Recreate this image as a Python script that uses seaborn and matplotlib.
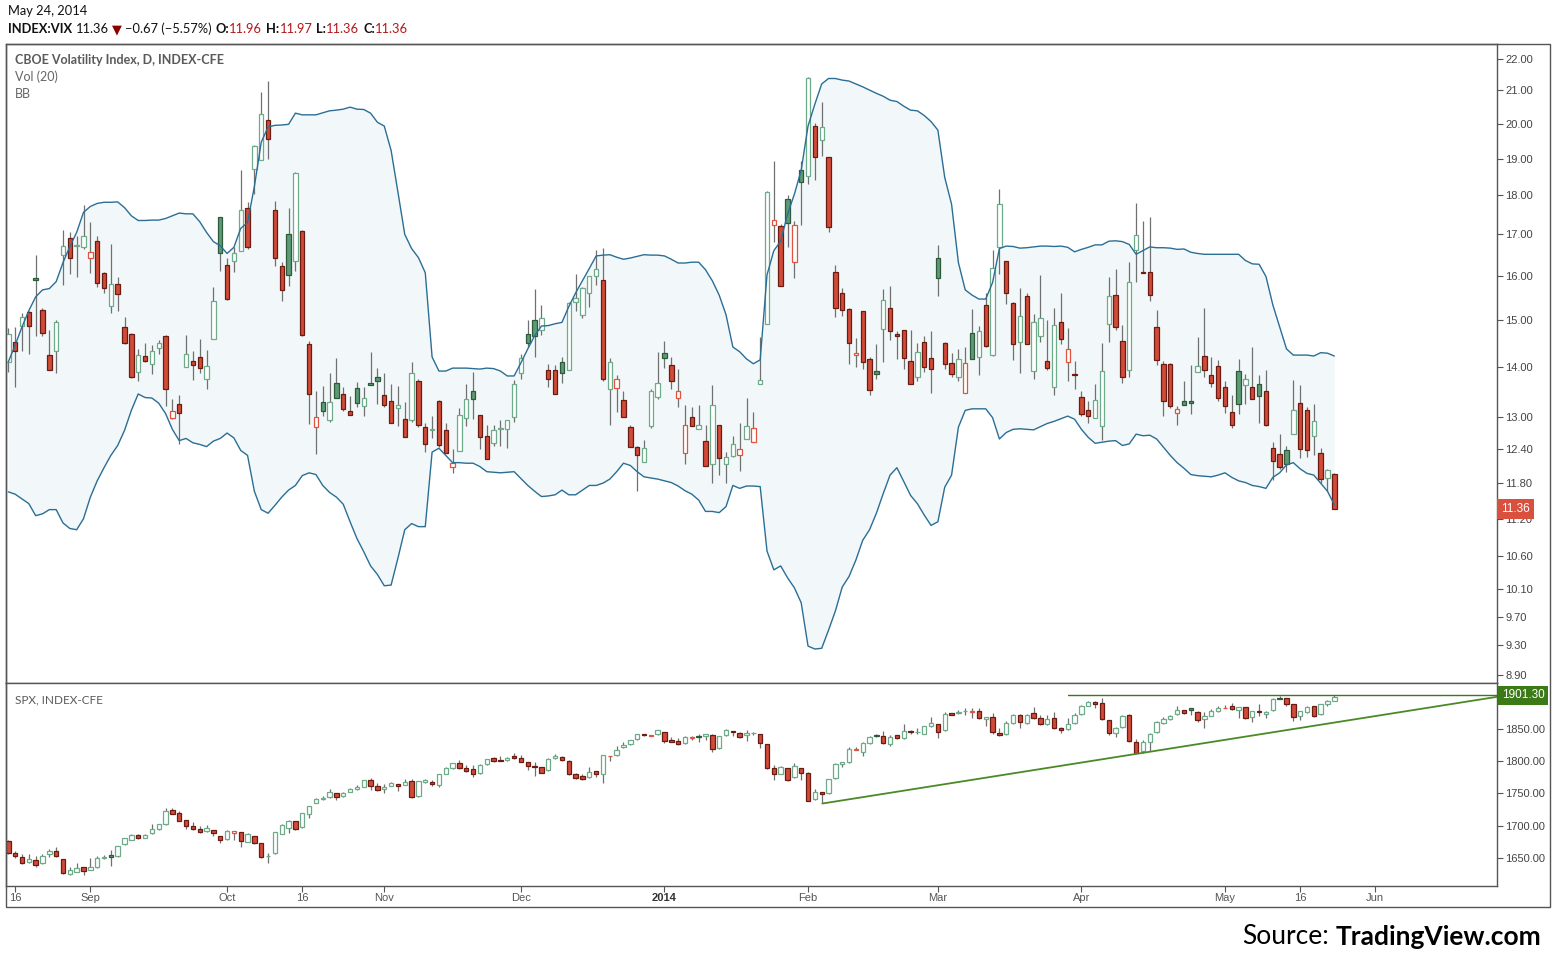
import numpy as np
import seaborn as sns
import matplotlib.pyplot as plt
import matplotlib.ticker as mticker
from matplotlib.patches import Rectangle

# bar index 0 = 15 Aug 2013 ... 194 = 23 May 2014 (daily bars)
# ---------------- VIX (upper pane) ----------------
vix_open = [14.10, 14.51, 14.87, 15.18, 15.95, 15.22, 14.24, 14.33, 16.49, 16.91,
            16.72, 16.69, 16.42, 16.84, 16.06, 15.30, 15.81, 14.84, 14.68, 13.89,
            14.22, 14.05, 14.39, 14.64, 12.99, 13.25, 14.00, 14.12, 14.20, 13.75,
            14.58, 17.43, 16.25, 16.34, 16.59, 17.67, 18.71, 18.95, 20.12, 17.62,
            16.24, 17.01, 16.35, 17.09, 14.47, 12.81, 13.29, 12.94, 13.67, 13.45,
            13.12, 13.57, 13.21, 13.67, 13.79, 13.42, 13.31, 13.17, 12.96, 12.94,
            13.71, 12.81, 12.76, 13.31, 12.75, 12.09, 12.37, 12.99, 13.51, 13.04,
            12.64, 12.52, 12.78, 12.77, 13.01, 13.87, 14.68, 14.99, 14.78, 13.94,
            13.94, 14.10, 13.94, 15.39, 15.11, 15.60, 16.00, 15.90, 13.55, 13.57,
            13.33, 12.81, 12.44, 12.17, 12.83, 13.39, 14.29, 14.03, 13.37, 12.33,
            13.00, 12.78, 12.55, 12.14, 12.85, 12.13, 12.28, 12.30, 12.59, 12.53,
            13.64, 14.90, 17.23, 17.22, 17.90, 16.33, 18.68, 18.52, 19.93, 19.52,
            19.04, 16.09, 15.59, 15.24, 14.26, 15.19, 14.16, 13.91, 14.79, 15.25,
            14.68, 14.77, 14.12, 13.79, 14.51, 14.18, 16.42, 14.50, 14.08, 13.78,
            13.47, 14.71, 14.19, 15.32, 14.24, 16.68, 16.35, 15.37, 14.51, 15.53,
            13.91, 14.64, 14.12, 13.59, 14.94, 14.10, 13.84, 13.39, 13.14, 12.98,
            12.83, 14.90, 15.55, 14.54, 13.94, 16.61, 16.08, 16.09, 14.84, 14.05,
            14.05, 13.07, 13.31, 13.31, 13.89, 14.22, 13.83, 14.02, 13.59, 13.09,
            13.91, 13.62, 13.59, 13.65, 13.51, 12.42, 12.31, 12.38, 12.68, 13.27,
            13.13, 12.64, 12.34, 11.89, 11.96]
vix_high = [14.81, 14.84, 15.15, 15.20, 16.50, 15.25, 14.78, 14.99, 17.10, 17.05,
            16.95, 17.76, 17.32, 16.97, 16.08, 16.75, 15.97, 15.05, 14.70, 14.37,
            14.50, 14.46, 14.56, 14.66, 13.35, 13.43, 14.67, 14.33, 14.58, 14.35,
            15.74, 17.45, 16.42, 16.70, 18.68, 17.82, 19.37, 20.94, 21.30, 17.85,
            16.33, 17.68, 18.62, 17.10, 14.54, 13.50, 13.60, 13.88, 14.17, 13.59,
            13.40, 13.68, 13.59, 14.31, 13.98, 13.88, 13.64, 13.60, 13.29, 14.10,
            13.75, 12.89, 13.02, 13.33, 12.89, 12.41, 13.18, 13.64, 13.90, 13.05,
            12.86, 12.86, 12.94, 12.95, 13.73, 14.26, 15.00, 15.68, 15.33, 14.06,
            14.04, 14.19, 15.39, 16.04, 15.74, 16.00, 16.62, 16.67, 14.17, 13.83,
            13.50, 12.86, 12.47, 12.57, 13.55, 14.31, 14.54, 14.19, 13.96, 13.24,
            13.20, 13.23, 12.86, 13.63, 12.86, 12.36, 12.64, 12.89, 13.38, 13.09,
            14.63, 18.12, 18.94, 17.25, 18.00, 17.33, 18.93, 21.42, 20.01, 20.64,
            19.05, 16.26, 15.72, 15.25, 14.61, 15.20, 14.19, 14.48, 15.68, 15.77,
            14.75, 14.78, 14.78, 14.50, 14.64, 14.75, 16.74, 14.51, 14.29, 14.37,
            14.40, 15.24, 14.87, 15.60, 16.62, 18.17, 16.36, 15.40, 15.72, 15.60,
            15.13, 16.02, 15.00, 15.25, 15.59, 14.82, 14.12, 13.51, 13.32, 13.65,
            14.50, 15.98, 16.16, 14.88, 16.33, 17.81, 17.33, 17.43, 15.22, 14.12,
            14.08, 13.21, 13.71, 14.04, 14.63, 15.25, 14.20, 14.13, 13.71, 13.43,
            14.16, 13.86, 14.40, 13.83, 13.94, 12.53, 12.69, 12.46, 13.73, 13.63,
            13.19, 13.25, 12.42, 12.05, 11.97]
vix_low = [13.89, 13.59, 14.33, 14.26, 14.64, 14.64, 13.94, 13.87, 15.79, 16.05,
           15.97, 16.65, 16.07, 15.73, 15.60, 15.15, 15.19, 14.47, 13.76, 13.71,
           14.10, 13.85, 14.26, 13.21, 12.97, 12.50, 14.00, 13.73, 13.87, 13.55,
           14.58, 16.12, 15.44, 16.09, 16.59, 16.63, 18.03, 18.95, 19.00, 16.24,
           15.42, 15.77, 16.12, 14.64, 12.87, 12.31, 13.03, 12.90, 13.37, 13.11,
           13.04, 13.19, 13.03, 13.62, 13.25, 13.19, 12.89, 12.83, 12.63, 12.90,
           12.81, 12.36, 12.61, 12.44, 12.33, 11.98, 12.37, 12.84, 12.96, 12.41,
           12.23, 12.46, 12.46, 12.42, 12.90, 13.75, 14.41, 14.19, 14.67, 13.59,
           13.45, 13.67, 13.94, 15.20, 15.04, 15.28, 15.78, 13.71, 12.86, 13.10,
           13.00, 12.44, 11.67, 12.17, 12.80, 13.35, 13.97, 13.55, 13.19, 12.13,
           12.83, 12.78, 12.10, 11.81, 11.95, 11.80, 12.26, 12.01, 12.59, 12.53,
           13.64, 14.90, 16.82, 15.76, 16.68, 15.94, 17.23, 18.30, 18.40, 19.08,
           17.06, 15.06, 15.08, 14.05, 13.99, 13.95, 13.42, 13.75, 14.10, 14.55,
           14.16, 13.95, 13.64, 13.70, 13.89, 13.47, 15.52, 13.95, 13.79, 13.71,
           13.47, 14.16, 13.82, 14.40, 14.23, 16.04, 15.34, 14.13, 13.87, 14.47,
           13.75, 14.52, 13.93, 13.43, 14.47, 13.71, 13.55, 13.03, 12.88, 12.98,
           12.57, 14.52, 14.78, 13.67, 13.79, 15.86, 16.07, 15.42, 14.04, 13.03,
           13.17, 12.86, 13.24, 13.06, 13.89, 13.79, 13.59, 13.31, 13.07, 12.80,
           13.06, 13.25, 13.35, 12.88, 12.84, 11.85, 12.04, 12.00, 12.68, 12.24,
           12.27, 12.30, 11.80, 11.67, 11.36]
vix_close = [14.69, 14.33, 15.06, 14.86, 15.89, 14.71, 13.94, 14.95, 16.71, 16.42,
             16.74, 16.97, 16.57, 15.83, 15.71, 15.81, 15.58, 14.50, 13.78, 14.24,
             14.11, 14.33, 14.50, 13.55, 13.12, 13.07, 14.26, 14.04, 13.97, 14.02,
             15.41, 16.53, 15.47, 16.54, 17.62, 16.68, 19.35, 20.28, 19.55, 16.43,
             15.67, 16.02, 18.60, 14.66, 13.44, 13.00, 13.12, 13.29, 13.37, 13.15,
             13.04, 13.28, 13.37, 13.62, 13.71, 13.23, 12.89, 13.24, 12.63, 13.87,
             12.85, 12.50, 12.78, 12.48, 12.33, 12.16, 13.05, 13.35, 13.36, 12.63,
             12.23, 12.75, 12.79, 12.94, 13.65, 14.18, 14.50, 14.65, 15.03, 13.75,
             13.45, 13.88, 15.37, 15.48, 15.71, 15.99, 16.16, 13.75, 14.10, 13.75,
             13.00, 12.44, 12.30, 12.42, 13.51, 13.67, 14.18, 13.71, 13.51, 12.86,
             12.83, 12.85, 12.10, 13.24, 12.24, 12.26, 12.50, 12.40, 12.83, 12.79,
             13.73, 18.10, 17.36, 15.76, 17.29, 17.23, 18.35, 21.39, 19.04, 19.90,
             17.19, 15.25, 15.22, 14.49, 14.27, 14.10, 13.53, 13.84, 15.45, 14.75,
             14.64, 14.18, 13.64, 14.31, 14.00, 13.95, 15.95, 14.06, 13.86, 14.16,
             14.08, 14.16, 14.75, 14.43, 16.19, 17.78, 15.60, 14.47, 15.08, 14.47,
             14.94, 15.03, 13.97, 14.88, 14.58, 14.37, 13.83, 13.06, 13.03, 13.33,
             13.91, 15.53, 14.84, 13.78, 15.86, 16.99, 16.07, 15.55, 14.14, 13.31,
             13.21, 13.15, 13.24, 13.27, 14.02, 13.94, 13.67, 13.37, 13.21, 12.86,
             13.25, 13.75, 13.35, 13.40, 12.86, 12.19, 12.09, 12.14, 13.13, 12.40,
             12.38, 12.93, 11.88, 12.03, 11.36]

# Bollinger band, as drawn
bb_upper = [14.10, 14.45, 14.84, 15.20, 15.51, 15.67, 15.70, 15.86, 16.31, 16.70,
            17.05, 17.56, 17.71, 17.79, 17.82, 17.82, 17.83, 17.68, 17.47, 17.35,
            17.35, 17.36, 17.36, 17.40, 17.47, 17.54, 17.52, 17.52, 17.32, 17.05,
            16.82, 16.72, 16.53, 16.68, 17.15, 17.30, 18.24, 19.46, 19.90, 19.95,
            19.96, 19.98, 20.31, 20.26, 20.26, 20.26, 20.32, 20.38, 20.40, 20.43,
            20.49, 20.43, 20.42, 20.31, 20.04, 19.93, 19.23, 18.09, 17.00, 16.65,
            16.43, 16.07, 14.20, 13.91, 13.91, 13.97, 13.97, 13.97, 13.96, 13.95,
            13.97, 13.96, 13.91, 13.81, 13.81, 14.08, 14.37, 14.65, 14.86, 14.87,
            14.91, 14.94, 15.29, 15.60, 15.88, 16.17, 16.47, 16.49, 16.50, 16.44,
            16.39, 16.42, 16.46, 16.50, 16.49, 16.49, 16.47, 16.39, 16.30, 16.30,
            16.32, 16.32, 16.14, 15.88, 15.55, 15.11, 14.41, 14.31, 14.16, 14.06,
            14.14, 16.02, 16.60, 16.83, 17.51, 18.03, 18.68, 19.93, 20.58, 21.20,
            21.37, 21.37, 21.32, 21.29, 21.20, 21.11, 21.01, 20.91, 20.82, 20.70,
            20.66, 20.52, 20.40, 20.38, 20.24, 20.06, 19.81, 18.48, 17.77, 16.31,
            15.67, 15.55, 15.46, 15.46, 15.84, 16.65, 16.71, 16.70, 16.66, 16.67,
            16.69, 16.71, 16.71, 16.70, 16.71, 16.68, 16.57, 16.63, 16.68, 16.74,
            16.74, 16.83, 16.84, 16.82, 16.75, 16.51, 16.60, 16.69, 16.67, 16.67,
            16.66, 16.63, 16.64, 16.56, 16.53, 16.51, 16.51, 16.51, 16.51, 16.51,
            16.51, 16.36, 16.28, 16.27, 15.98, 15.33, 14.84, 14.37, 14.24, 14.24,
            14.24, 14.22, 14.29, 14.28, 14.22]
bb_lower = [11.65, 11.61, 11.53, 11.45, 11.25, 11.28, 11.35, 11.35, 11.13, 11.04,
            11.02, 11.20, 11.56, 11.84, 12.07, 12.29, 12.47, 12.75, 13.13, 13.45,
            13.38, 13.37, 13.27, 13.07, 12.77, 12.56, 12.60, 12.52, 12.49, 12.45,
            12.55, 12.60, 12.70, 12.61, 12.38, 12.29, 11.66, 11.35, 11.29, 11.42,
            11.56, 11.68, 11.76, 11.93, 11.98, 11.95, 11.76, 11.64, 11.56, 11.44,
            11.15, 10.88, 10.67, 10.45, 10.32, 10.15, 10.16, 10.57, 11.02, 11.12,
            11.07, 11.07, 12.35, 12.42, 12.29, 12.16, 12.16, 12.15, 12.15, 12.09,
            12.00, 11.99, 11.98, 11.99, 12.00, 11.88, 11.76, 11.66, 11.57, 11.58,
            11.60, 11.68, 11.60, 11.60, 11.68, 11.76, 11.76, 11.80, 11.87, 12.00,
            12.15, 12.11, 12.00, 11.91, 11.89, 11.87, 11.84, 11.81, 11.75, 11.67,
            11.61, 11.51, 11.32, 11.32, 11.30, 11.40, 11.76, 11.71, 11.75, 11.75,
            11.74, 10.68, 10.39, 10.45, 10.27, 10.12, 9.90, 9.29, 9.25, 9.26,
            9.51, 9.78, 10.13, 10.29, 10.54, 10.85, 11.02, 11.29, 11.62, 11.94,
            12.07, 11.83, 11.59, 11.45, 11.26, 11.09, 11.15, 11.73, 11.94, 12.81,
            13.13, 13.16, 13.16, 13.16, 12.99, 12.59, 12.71, 12.77, 12.78, 12.77,
            12.76, 12.82, 12.88, 12.92, 12.97, 13.02, 12.96, 12.77, 12.62, 12.51,
            12.53, 12.55, 12.56, 12.47, 12.50, 12.68, 12.65, 12.66, 12.59, 12.44,
            12.29, 12.16, 12.06, 11.95, 11.93, 11.92, 11.91, 11.94, 11.98, 11.90,
            11.84, 11.81, 11.76, 11.74, 11.71, 11.90, 11.98, 12.12, 12.16, 12.05,
            11.97, 11.94, 11.80, 11.66, 11.43]

# ---------------- SPX (lower pane) ----------------
spx_open = [1676.8, 1657.8, 1651.6, 1643.9, 1647.5, 1642.4, 1656.2, 1661.4, 1649.1, 1626.5,
            1629.6, 1636.7, 1632.6, 1637.3, 1650.1, 1655.2, 1653.2, 1671.6, 1678.3, 1685.5,
            1681.9, 1688.6, 1694.7, 1702.4, 1724.0, 1719.9, 1708.6, 1699.4, 1694.7, 1691.7,
            1693.2, 1684.0, 1679.3, 1689.1, 1690.1, 1675.7, 1684.0, 1673.2, 1653.5, 1657.8,
            1688.1, 1696.3, 1707.6, 1697.8, 1717.8, 1735.3, 1742.2, 1744.0, 1750.2, 1745.6,
            1752.7, 1756.3, 1760.4, 1770.2, 1761.0, 1756.3, 1761.5, 1764.0, 1763.0, 1768.7,
            1745.6, 1767.1, 1767.1, 1762.5, 1780.5, 1788.7, 1796.4, 1788.7, 1787.1, 1781.0,
            1794.8, 1804.1, 1800.9, 1801.0, 1807.7, 1804.1, 1797.9, 1791.8, 1790.2, 1785.6,
            1804.1, 1805.6, 1800.5, 1779.4, 1776.4, 1774.8, 1784.1, 1779.4, 1807.5, 1808.7,
            1821.0, 1825.6, 1833.3, 1841.0, 1839.2, 1841.0, 1844.1, 1832.3, 1830.3, 1827.2,
            1836.5, 1838.5, 1838.0, 1839.5, 1819.5, 1839.5, 1845.7, 1843.1, 1839.5, 1842.7,
            1841.0, 1825.6, 1788.7, 1780.5, 1788.7, 1774.8, 1788.7, 1781.0, 1741.0, 1751.7,
            1750.2, 1773.3, 1794.8, 1797.9, 1817.5, 1813.3, 1827.2, 1840.0, 1838.0, 1826.1,
            1839.5, 1834.9, 1845.7, 1844.4, 1842.1, 1853.4, 1856.4, 1847.2, 1873.4, 1873.4,
            1876.6, 1876.5, 1877.0, 1864.1, 1867.2, 1843.6, 1841.0, 1858.0, 1870.8, 1858.0,
            1873.4, 1865.7, 1856.9, 1865.7, 1850.8, 1848.7, 1858.0, 1871.8, 1885.2, 1890.3,
            1888.8, 1862.6, 1843.6, 1851.8, 1870.8, 1828.7, 1815.9, 1829.7, 1844.1, 1859.0,
            1864.1, 1871.8, 1878.0, 1881.1, 1875.9, 1864.1, 1869.3, 1877.0, 1881.7, 1884.1,
            1878.0, 1882.6, 1867.2, 1877.0, 1872.3, 1878.0, 1896.6, 1896.5, 1887.2, 1869.8,
            1874.9, 1884.7, 1871.8, 1887.7, 1892.4]
spx_high = [1677.8, 1661.4, 1656.2, 1656.2, 1653.7, 1656.2, 1663.9, 1667.5, 1649.5, 1637.3,
            1642.4, 1637.0, 1650.1, 1653.7, 1655.2, 1662.9, 1669.0, 1681.9, 1687.6, 1687.6,
            1687.0, 1702.4, 1703.5, 1727.6, 1727.6, 1722.5, 1709.0, 1706.0, 1700.4, 1701.4,
            1693.6, 1684.4, 1693.7, 1692.2, 1690.5, 1689.6, 1684.4, 1673.6, 1657.8, 1691.0,
            1702.4, 1709.1, 1708.0, 1720.4, 1731.2, 1742.4, 1746.1, 1756.3, 1750.6, 1752.7,
            1758.4, 1763.0, 1770.6, 1773.8, 1765.6, 1764.5, 1767.1, 1765.1, 1771.7, 1771.7,
            1769.7, 1771.7, 1770.7, 1780.5, 1790.2, 1796.8, 1801.5, 1793.8, 1793.8, 1795.3,
            1802.9, 1806.1, 1807.7, 1805.5, 1811.8, 1809.2, 1798.3, 1797.9, 1790.6, 1804.1,
            1810.7, 1807.2, 1800.9, 1781.0, 1779.4, 1790.2, 1784.5, 1809.1, 1808.2, 1823.1,
            1828.7, 1832.2, 1841.4, 1842.1, 1840.5, 1847.6, 1844.5, 1836.9, 1834.9, 1838.0,
            1838.5, 1841.0, 1841.4, 1841.0, 1838.4, 1849.8, 1846.1, 1844.1, 1847.2, 1845.1,
            1841.4, 1826.0, 1793.8, 1792.8, 1789.1, 1796.4, 1789.7, 1782.5, 1756.3, 1752.7,
            1772.1, 1796.4, 1799.0, 1821.5, 1821.5, 1828.6, 1839.0, 1841.5, 1846.2, 1840.0,
            1839.9, 1856.9, 1847.2, 1851.3, 1853.8, 1867.2, 1856.8, 1874.9, 1873.9, 1878.0,
            1882.1, 1881.1, 1881.1, 1867.6, 1873.9, 1850.3, 1861.1, 1872.3, 1872.3, 1871.8,
            1882.6, 1871.3, 1870.8, 1875.9, 1852.3, 1866.7, 1873.4, 1886.2, 1892.4, 1892.4,
            1896.5, 1863.0, 1852.8, 1870.2, 1871.8, 1833.3, 1832.3, 1842.6, 1860.9, 1868.2,
            1870.8, 1884.1, 1878.4, 1882.1, 1876.3, 1875.9, 1880.0, 1884.7, 1886.2, 1889.8,
            1883.6, 1883.0, 1877.4, 1887.7, 1877.0, 1896.5, 1900.1, 1896.9, 1887.6, 1877.4,
            1884.0, 1885.1, 1888.1, 1894.4, 1901.3]
spx_low = [1656.8, 1651.1, 1642.0, 1642.4, 1637.3, 1642.0, 1652.6, 1652.8, 1626.5, 1624.4,
           1628.5, 1624.4, 1631.6, 1635.2, 1649.8, 1638.8, 1652.8, 1671.2, 1678.0, 1680.5,
           1681.5, 1688.2, 1694.3, 1701.4, 1718.5, 1707.2, 1695.8, 1694.3, 1689.7, 1691.3,
           1685.0, 1673.2, 1679.0, 1678.3, 1668.0, 1675.4, 1672.8, 1651.2, 1643.4, 1657.4,
           1687.0, 1689.6, 1694.3, 1697.4, 1712.7, 1735.0, 1739.4, 1743.6, 1739.4, 1745.2,
           1751.7, 1755.9, 1760.0, 1755.3, 1753.8, 1751.2, 1761.1, 1754.3, 1762.6, 1743.6,
           1745.2, 1766.7, 1761.0, 1759.4, 1779.4, 1788.3, 1788.3, 1783.5, 1775.8, 1780.6,
           1794.4, 1799.0, 1800.0, 1800.6, 1803.7, 1797.9, 1786.1, 1777.4, 1781.6, 1785.2,
           1803.7, 1800.6, 1779.0, 1771.7, 1771.2, 1774.4, 1775.8, 1766.6, 1800.5, 1808.3,
           1820.6, 1825.2, 1832.9, 1839.0, 1838.0, 1840.6, 1827.2, 1829.3, 1824.6, 1826.8,
           1831.8, 1829.7, 1831.8, 1814.4, 1819.1, 1839.1, 1839.0, 1834.9, 1831.3, 1840.0,
           1819.5, 1788.3, 1770.7, 1779.4, 1769.7, 1774.4, 1770.7, 1738.5, 1740.6, 1734.8,
           1749.8, 1772.9, 1791.2, 1797.5, 1816.9, 1808.2, 1825.6, 1836.4, 1826.8, 1823.6,
           1834.5, 1834.5, 1842.1, 1842.1, 1841.7, 1853.0, 1834.9, 1846.8, 1871.1, 1873.0,
           1870.8, 1866.7, 1865.3, 1854.4, 1841.0, 1838.5, 1840.6, 1857.6, 1850.3, 1856.9,
           1864.1, 1856.0, 1855.4, 1849.9, 1842.6, 1848.3, 1857.6, 1871.4, 1884.8, 1882.1,
           1863.1, 1840.0, 1837.4, 1851.4, 1829.7, 1811.8, 1812.8, 1815.9, 1843.7, 1856.4,
           1863.7, 1871.4, 1873.0, 1870.8, 1860.5, 1850.3, 1868.9, 1875.9, 1881.1, 1878.5,
           1866.7, 1865.3, 1860.5, 1869.8, 1866.7, 1877.6, 1895.2, 1885.2, 1862.1, 1863.1,
           1873.4, 1868.2, 1871.4, 1885.2, 1892.0]
spx_close = [1657.8, 1653.2, 1642.4, 1649.1, 1639.3, 1653.2, 1661.4, 1653.2, 1627.0, 1631.6,
             1635.2, 1630.1, 1636.7, 1650.1, 1652.1, 1652.6, 1668.6, 1680.9, 1685.5, 1680.9,
             1685.5, 1695.3, 1702.4, 1722.5, 1718.9, 1707.6, 1699.4, 1694.7, 1690.1, 1696.3,
             1688.6, 1677.8, 1692.2, 1691.7, 1676.3, 1687.6, 1673.2, 1651.6, 1653.7, 1690.6,
             1700.9, 1707.0, 1694.7, 1719.4, 1730.2, 1742.0, 1742.6, 1751.7, 1744.0, 1750.7,
             1757.4, 1759.4, 1770.2, 1761.0, 1754.8, 1759.4, 1766.1, 1761.0, 1768.1, 1744.0,
             1768.7, 1770.2, 1765.1, 1779.4, 1788.7, 1796.4, 1788.7, 1785.1, 1779.4, 1793.8,
             1802.5, 1800.5, 1800.3, 1805.1, 1804.1, 1799.0, 1792.8, 1790.2, 1782.0, 1802.5,
             1807.7, 1801.0, 1779.4, 1773.3, 1772.8, 1783.5, 1779.4, 1808.7, 1807.8, 1816.4,
             1825.1, 1831.8, 1841.0, 1839.5, 1839.4, 1847.2, 1830.8, 1829.7, 1825.6, 1836.9,
             1836.7, 1837.0, 1841.0, 1817.9, 1838.0, 1848.2, 1844.1, 1836.4, 1842.6, 1843.0,
             1827.2, 1788.7, 1779.4, 1791.2, 1771.2, 1791.8, 1781.0, 1738.9, 1752.7, 1748.6,
             1771.7, 1794.8, 1797.9, 1817.9, 1817.7, 1828.2, 1836.4, 1838.0, 1827.2, 1837.4,
             1834.9, 1845.7, 1844.1, 1844.6, 1853.4, 1858.0, 1844.1, 1871.8, 1871.5, 1874.9,
             1876.9, 1876.7, 1865.7, 1867.2, 1844.1, 1839.5, 1858.0, 1870.8, 1860.0, 1870.8,
             1865.7, 1856.4, 1864.1, 1850.3, 1847.2, 1856.4, 1870.3, 1884.1, 1890.3, 1887.2,
             1864.1, 1843.6, 1850.3, 1869.8, 1831.3, 1812.8, 1828.7, 1841.0, 1860.5, 1864.1,
             1869.8, 1878.0, 1873.4, 1878.5, 1862.6, 1869.3, 1877.0, 1882.1, 1881.9, 1879.5,
             1882.6, 1865.7, 1877.0, 1874.9, 1875.9, 1895.4, 1895.6, 1887.2, 1868.2, 1877.0,
             1883.6, 1869.8, 1887.7, 1892.4, 1899.0]

# user drawn lines on the SPX pane
support_x = [119.1, 217.8]
support_y = [1734.5, 1898.8]
resist_x = [155.1, 217.8]
resist_level = 1901.30

# date axis
tick_pos = [1, 12, 32, 43, 55, 75, 96, 117, 136, 157, 178, 189, 200]
tick_labels = ["16", "Sep", "Oct", "16", "Nov", "Dec", "2014", "Feb", "Mar", "Apr", "May", "16", "Jun"]
vix_ticks = [22, 21, 20, 19, 18, 17, 16, 15, 14, 13, 12.4, 11.8, 11.2, 10.6, 10.1, 9.7, 9.3, 8.9]
spx_ticks = [1650, 1700, 1750, 1800, 1850]

# colours
R_FILL, R_EDGE, R_HOLLOW = "#d14b39", "#6b1b12", "#e2533f"
G_FILL, G_EDGE, G_HOLLOW = "#5d9b76", "#2c5a3b", "#6eab8a"
WICK = "#707070"
BB_LINE, BB_FILL = "#2b6e95", "#f2f8f9"
TREND = "#4a8a26"
AX_COL = "#555555"

sns.set_theme(style="white")
plt.rcParams['font.family'] = ['Liberation Sans', 'DejaVu Sans']

W, H = 1556, 964
fig = plt.figure(figsize=(W / 100, H / 100), dpi=100)


def fx(x):
    return x / W


def fy(y):
    return 1 - y / H


ax1 = fig.add_axes([fx(6), fy(683), fx(1497) - fx(6), fy(44) - fy(683)])
ax2 = fig.add_axes([fx(6), fy(886), fx(1497) - fx(6), fy(683) - fy(886)], sharex=ax1)


def candles(ax, o, h, l, c, width, min_h):
    o, h, l, c = map(np.asarray, (o, h, l, c))
    x = np.arange(len(o))
    prev = np.r_[o[0], c[:-1]]
    up = c >= prev
    hollow = c > o
    ax.vlines(x, l, h, color=WICK, lw=0.9, zorder=2)
    diff = np.abs(c - o)
    height = np.maximum(diff, min_h)
    bottom = np.minimum(o, c) - (height - diff) / 2
    face = np.where(hollow, "white", np.where(up, G_FILL, R_FILL))
    edge = np.where(hollow, np.where(up, G_HOLLOW, R_HOLLOW), np.where(up, G_EDGE, R_EDGE))
    ax.bar(x, height, width, bottom=bottom, color=face, edgecolor=edge,
           linewidth=0.9, zorder=3)


# ---- upper pane: VIX + BB ----
idx = np.arange(len(vix_close))
ax1.set_yscale("log")
ax1.fill_between(idx, bb_lower, bb_upper, color=BB_FILL, lw=0, zorder=1)
candles(ax1, vix_open, vix_high, vix_low, vix_close, 0.64, 0.03)
sns.lineplot(x=idx, y=bb_upper, ax=ax1, color=BB_LINE, lw=1.0, zorder=4)
sns.lineplot(x=idx, y=bb_lower, ax=ax1, color=BB_LINE, lw=1.0, zorder=4)
ax1.set_ylim(8.80, 22.48)
ax1.set_xlim(-0.34, 217.8)
ax1.yaxis.set_major_locator(mticker.FixedLocator(vix_ticks))
ax1.yaxis.set_minor_locator(mticker.NullLocator())
ax1.yaxis.set_major_formatter(mticker.FuncFormatter(lambda v, p: f"{v:.2f}"))
ax1.yaxis.tick_right()
ax1.tick_params(axis="y", which="both", direction="out", length=4, width=0.8,
                color=AX_COL, labelsize=8, labelcolor="#444444", pad=2, right=True, left=False)
ax1.tick_params(axis="x", which="both", length=0, labelbottom=False)

# ---- lower pane: SPX ----
candles(ax2, spx_open, spx_high, spx_low, spx_close, 0.64, 1.0)
sns.lineplot(x=support_x, y=support_y, ax=ax2, color=TREND, lw=1.3, zorder=5)
sns.lineplot(x=resist_x, y=[resist_level, resist_level], ax=ax2, color="#3b7a16", lw=1.0, zorder=5)
ax2.set_ylim(1607.5, 1920.1)
ax2.yaxis.set_major_locator(mticker.FixedLocator(spx_ticks))
ax2.yaxis.set_major_formatter(mticker.FuncFormatter(lambda v, p: f"{v:.2f}"))
ax2.yaxis.tick_right()
ax2.tick_params(axis="y", direction="out", length=4, width=0.8, color=AX_COL,
                labelsize=8, labelcolor="#444444", pad=2, right=True, left=False)
ax2.set_xticks(tick_pos)
ax2.set_xticklabels(tick_labels)
ax2.tick_params(axis="x", direction="out", length=4, width=0.8, color=AX_COL,
                labelsize=8, labelcolor="#555555", pad=1, bottom=True)
for t in ax2.get_xticklabels():
    if t.get_text() == "2014":
        t.set_fontweight("bold")
        t.set_color("#333333")

for ax in (ax1, ax2):
    ax.set_xlabel("")
    ax.set_ylabel("")
    ax.grid(False)
    for s in ax.spines.values():
        s.set_color(AX_COL)
        s.set_linewidth(1.0)

# last price labels on the right axis
last = vix_close[-1]
ax1.text(1.0 + 4 / 1491, last, f"{last:.2f}", transform=ax1.get_yaxis_transform(),
         ha="left", va="center", color="white", fontsize=8.5, zorder=10, clip_on=False,
         bbox=dict(boxstyle="square,pad=0.35", fc="#d9503e", ec="none"))
ax2.text(1.0 + 5 / 1491, resist_level, f"{resist_level:.2f}", transform=ax2.get_yaxis_transform(),
         ha="left", va="center", color="white", fontsize=8.5, zorder=10, clip_on=False,
         bbox=dict(boxstyle="square,pad=0.3", fc="#3b7a16", ec="none"))

# outer frame
fig.add_artist(Rectangle((fx(6), fy(907)), fx(1550) - fx(6), fy(44) - fy(907),
                         transform=fig.transFigure, fill=False, ec=AX_COL, lw=1.0))

# pane legends
TXT = ["Lato", "DejaVu Sans"]
fig.text(fx(15), fy(60), "CBOE Volatility Index, D, INDEX-CFE", family=TXT, fontsize=9,
         fontweight="bold", color="#5a5a5a", va="center")
fig.text(fx(15), fy(77), "Vol (20)", family=TXT, fontsize=9, color="#666666", va="center")
fig.text(fx(15), fy(94), "BB", family=TXT, fontsize=9, color="#666666", va="center")
fig.text(fx(15), fy(700), "SPX, INDEX-CFE", family=TXT, fontsize=8.5, color="#5a5a5a", va="center")

# header
renderer = fig.canvas.get_renderer()
fig.text(fx(8), fy(11), "May 24, 2014", family=TXT, fontsize=9.3, color="#111111", va="center")

chg = vix_close[-1] - vix_close[-2]
pct = chg / vix_close[-2] * 100
DRED = "#b3171b"
pieces = [("INDEX:VIX", "bold", "#111111", 4),
          (f"{vix_close[-1]:.2f}", "normal", "#111111", 3),
          ("\u25bc", "normal", "#8b0000", 3),
          (f"\u2212{abs(chg):.2f} (\u2212{abs(pct):.2f}%)", "normal", "#111111", 4),
          ("O:", "bold", "#111111", 0), (f"{vix_open[-1]:.2f}", "normal", DRED, 4),
          ("H:", "bold", "#111111", 0), (f"{vix_high[-1]:.2f}", "normal", DRED, 4),
          ("L:", "bold", "#111111", 0), (f"{vix_low[-1]:.2f}", "normal", DRED, 4),
          ("C:", "bold", "#111111", 0), (f"{vix_close[-1]:.2f}", "normal", DRED, 0)]
xpos = 8
for s, wgt, col, gap in pieces:
    t = fig.text(fx(xpos), fy(29), s, family=TXT, fontsize=9.3, fontweight=wgt, color=col, va="center")
    bb = t.get_window_extent(renderer)
    xpos = bb.x1 + gap

# source note
t = fig.text(fx(1541), fy(937), "TradingView.com", family=TXT, fontsize=19, fontweight="bold",
             color="#000000", ha="right", va="center")
bb = t.get_window_extent(renderer)
fig.text(fx(bb.x0 - 6), fy(937), "Source:", family=TXT, fontsize=19, color="#000000",
         ha="right", va="center")

fig.savefig("out.png", dpi=100)
